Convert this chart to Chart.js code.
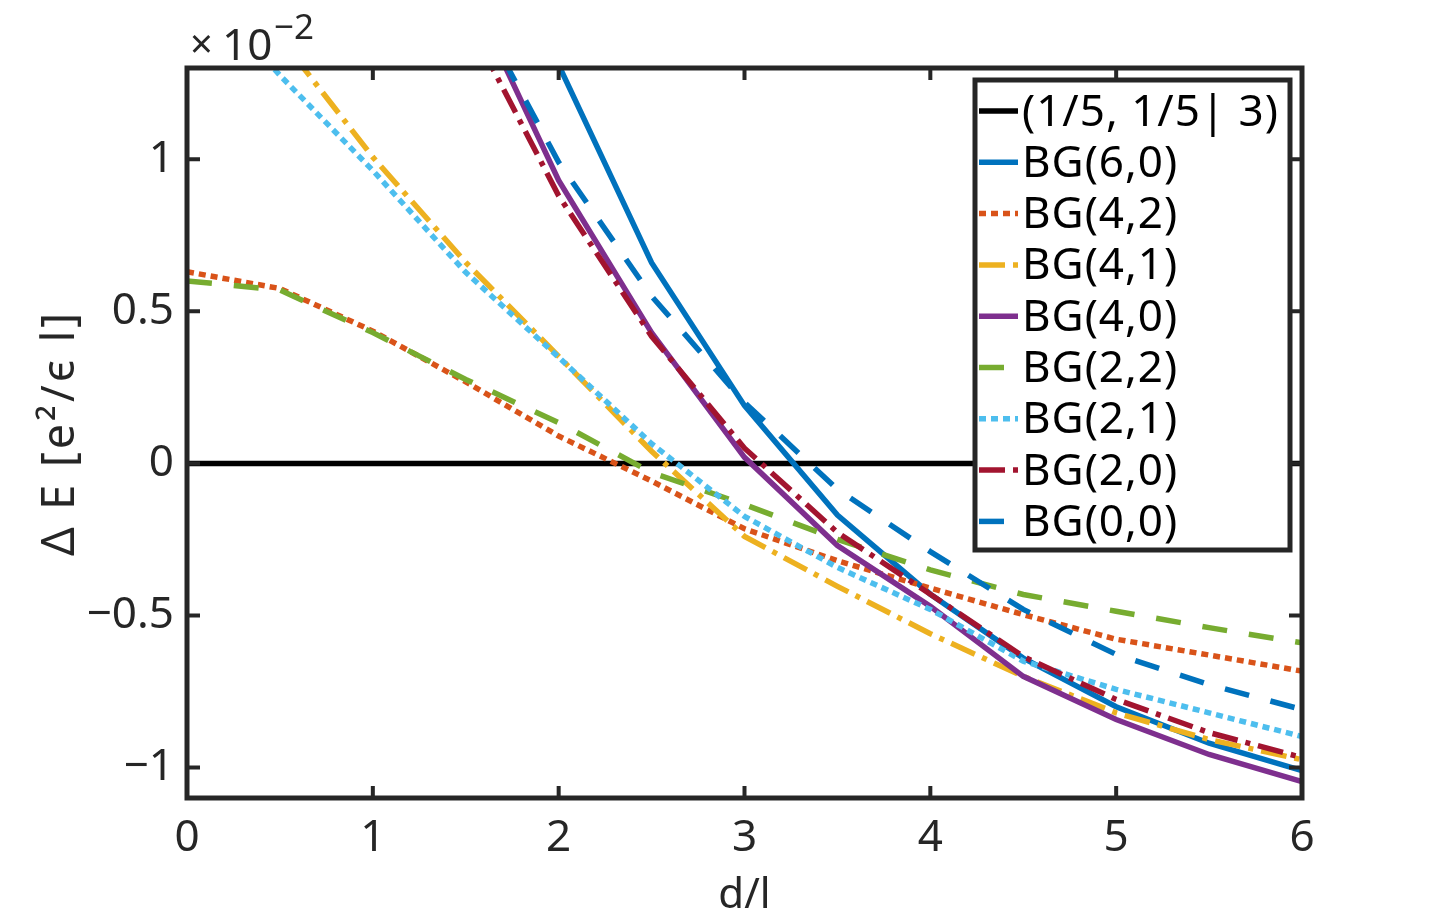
<!DOCTYPE html>
<html>
<head>
<meta charset="utf-8">
<script src="https://cdn.jsdelivr.net/npm/chart.js@4/dist/chart.umd.min.js"></script>
<style>
  body { margin: 0; background: #fff; overflow: hidden; }
  #wrap { width: 1440px; height: 919px; }
</style>
</head>
<body>
<div id="wrap"><canvas id="grafica" width="1440" height="919"></canvas></div>
<script>
// d/l values (x axis)
var dVals = [0, 0.5, 1, 1.5, 2, 2.5, 3, 3.5, 4, 4.5, 5, 5.5, 6];
// energy differences, in units of 1e-2 e^2/(eps l)
var ref153 = [0, 0, 0, 0, 0, 0, 0, 0, 0, 0, 0, 0, 0];
var bg60 = [3.4, 2.9, 2.45, 1.9, 1.31, 0.66, 0.19, -0.17, -0.43, -0.64, -0.80, -0.92, -1.01];
var bg42 = [0.63, 0.575, 0.435, 0.268, 0.09, -0.058, -0.215, -0.32, -0.41, -0.497, -0.578, -0.63, -0.683];
var bg41 = [1.85, 1.40, 1.007, 0.661, 0.352, 0.04, -0.24, -0.404, -0.56, -0.70, -0.82, -0.908, -0.974];
var bg40 = [3.6, 2.9, 2.25, 1.58, 0.93, 0.43, 0.02, -0.27, -0.47, -0.70, -0.842, -0.957, -1.046];
var bg22 = [0.60, 0.57, 0.43, 0.276, 0.134, -0.03, -0.135, -0.25, -0.35, -0.431, -0.486, -0.54, -0.59];
var bg21 = [1.62, 1.276, 0.963, 0.628, 0.349, 0.065, -0.174, -0.342, -0.48, -0.65, -0.743, -0.82, -0.898];
var bg20 = [3.3, 2.7, 2.1, 1.47, 0.88, 0.418, 0.05, -0.227, -0.43, -0.635, -0.776, -0.885, -0.967];
var bg00 = [3.4, 2.8, 2.2, 1.56, 0.99, 0.55, 0.20, -0.085, -0.29, -0.48, -0.628, -0.727, -0.809];

var labels = ['(1/5, 1/5| 3)', 'BG(6,0)', 'BG(4,2)', 'BG(4,1)', 'BG(4,0)', 'BG(2,2)', 'BG(2,1)', 'BG(2,0)', 'BG(0,0)'];
var xTicks = [0, 1, 2, 3, 4, 5, 6];
var yTicks = [-1, -0.5, 0, 0.5, 1];
var yTitle = '\u0394 E [e\u00b2/\u03f5 l]';

var FONT = "'Noto Sans', 'DejaVu Sans', sans-serif";
var AXC = '#262626';

function pts(ys) {
    return ys.map(function (y, i) { return { x: dVals[i], y: y }; });
}

var series = [
    { data: ref153, color: '#000000', dash: [] },
    { data: bg60, color: '#0072BD', dash: [] },
    { data: bg42, color: '#D95319', dash: [7, 5] },
    { data: bg41, color: '#EDB120', dash: [26, 8, 5, 8] },
    { data: bg40, color: '#7E2F8E', dash: [] },
    { data: bg22, color: '#77AC30', dash: [25, 22] },
    { data: bg21, color: '#4DBEEE', dash: [7, 5] },
    { data: bg20, color: '#A2142F', dash: [26, 8, 5, 8] },
    { data: bg00, color: '#0072BD', dash: [25, 22] }
];

var datasets = series.map(function (s, i) {
    return {
        label: labels[i],
        data: pts(s.data),
        borderColor: s.color,
        backgroundColor: s.color,
        borderWidth: 5.5,
        borderDash: s.dash,
        pointRadius: 0,
        tension: 0,
        fill: false,
        order: series.length - i
    };
});

function fmt(v) {
    return v < 0 ? '\u2212' + Math.abs(v) : String(v);
}

// frame, inward ticks, y title, exponent and legend drawn on top
var decor = {
    id: 'decor',
    afterDraw: function (chart) {
        var ctx = chart.ctx;
        var a = chart.chartArea;
        var xs = chart.scales.x, ys = chart.scales.y;
        ctx.save();
        ctx.strokeStyle = AXC;
        ctx.lineWidth = 4;
        xTicks.forEach(function (t) {
            var px = xs.getPixelForValue(t);
            ctx.beginPath();
            ctx.moveTo(px, a.bottom); ctx.lineTo(px, a.bottom - 12);
            ctx.moveTo(px, a.top); ctx.lineTo(px, a.top + 12);
            ctx.stroke();
        });
        yTicks.forEach(function (t) {
            var py = ys.getPixelForValue(t);
            ctx.beginPath();
            ctx.moveTo(a.left, py); ctx.lineTo(a.left + 13, py);
            ctx.moveTo(a.right, py); ctx.lineTo(a.right - 13, py);
            ctx.stroke();
        });
        ctx.lineWidth = 5;
        ctx.strokeRect(a.left, a.top, a.right - a.left, a.bottom - a.top);

        // y axis title
        ctx.save();
        ctx.translate(74, (a.top + a.bottom) / 2);
        ctx.rotate(-Math.PI / 2);
        ctx.fillStyle = AXC;
        ctx.font = '45px ' + FONT;
        ctx.letterSpacing = '3px';
        ctx.textAlign = 'center';
        ctx.textBaseline = 'alphabetic';
        ctx.fillText(yTitle, 0, 0);
        ctx.restore();

        // x10^-2 multiplier
        ctx.fillStyle = AXC;
        ctx.textBaseline = 'alphabetic';
        ctx.textAlign = 'left';
        ctx.font = '40px ' + FONT;
        ctx.fillText('\u00d7', 190, 58);
        ctx.font = '44px ' + FONT;
        ctx.fillText('10', 222, 60);
        ctx.font = '35px ' + FONT;
        ctx.fillText('\u22122', 274, 39);

        // legend box
        var lx = 975, ly = 80, lw = 315, lh = 470;
        ctx.fillStyle = '#fff';
        ctx.fillRect(lx, ly, lw, lh);
        ctx.lineWidth = 5;
        ctx.strokeStyle = AXC;
        ctx.strokeRect(lx, ly, lw, lh);
        ctx.font = '44px ' + FONT;
        ctx.letterSpacing = '1px';
        ctx.textBaseline = 'middle';
        chart.data.datasets.forEach(function (ds, i) {
            var cy = 111 + i * 51.3;
            ctx.save();
            ctx.strokeStyle = ds.borderColor;
            ctx.lineWidth = 5.5;
            ctx.setLineDash(ds.borderDash);
            ctx.beginPath();
            ctx.moveTo(979, cy); ctx.lineTo(1018, cy);
            ctx.stroke();
            ctx.restore();
            ctx.fillStyle = '#000';
            ctx.fillText(ds.label, 1022, cy + 2);
        });
        ctx.restore();
    }
};

var ctx = document.getElementById('grafica').getContext('2d');
new Chart(ctx, {
    type: 'line',
    data: { datasets: datasets },
    plugins: [decor],
    options: {
        responsive: false,
        animation: false,
        layout: { padding: { top: 68, right: 138, left: 0, bottom: 0 } },
        plugins: { legend: { display: false }, tooltip: { enabled: false } },
        scales: {
            x: {
                type: 'linear',
                min: 0, max: 6,
                afterFit: function (s) { s.height = 121; },
                afterBuildTicks: function (s) { s.ticks = xTicks.map(function (v) { return { value: v }; }); },
                grid: { display: false, drawTicks: false },
                border: { display: false },
                ticks: {
                    padding: 14, color: AXC, maxRotation: 0,
                    font: { family: FONT, size: 44 },
                    callback: function (v) { return fmt(v); }
                },
                title: {
                    display: true, text: 'd/l', color: AXC,
                    font: { family: FONT, size: 42 },
                    padding: { top: 0, bottom: -2 }
                }
            },
            y: {
                type: 'linear',
                min: -1.1, max: 1.3,
                afterFit: function (s) { s.width = 187; },
                afterBuildTicks: function (s) { s.ticks = yTicks.map(function (v) { return { value: v }; }); },
                grid: { display: false, drawTicks: false },
                border: { display: false },
                ticks: {
                    padding: 13, color: AXC,
                    font: { family: FONT, size: 44 },
                    callback: function (v) { return fmt(v); }
                },
                title: { display: false }
            }
        }
    }
});
</script>
</body>
</html>
